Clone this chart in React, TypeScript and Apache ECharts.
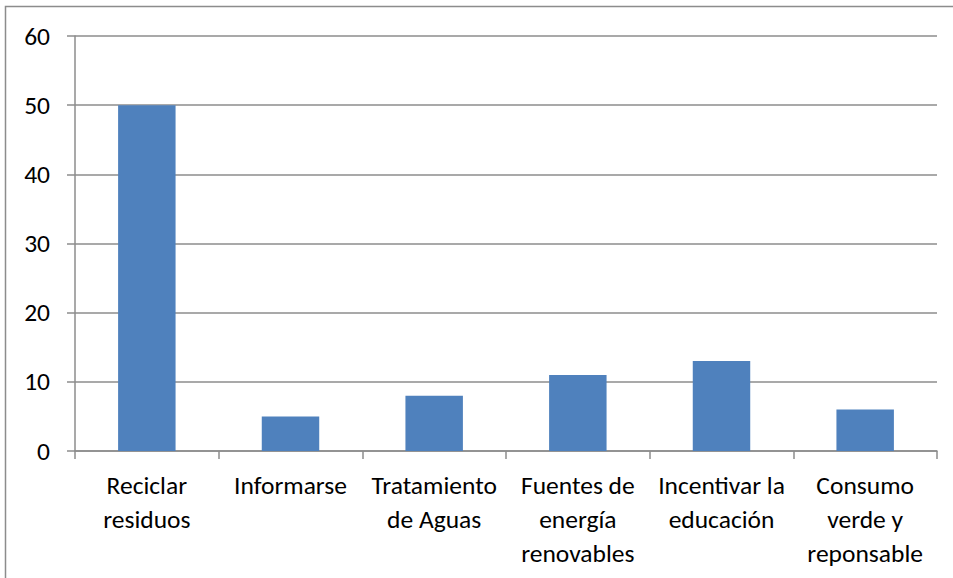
import React, { useEffect, useRef } from "react";
import * as echarts from "echarts";

const categories = [
  "Reciclar\nresiduos",
  "Informarse",
  "Tratamiento\nde Aguas",
  "Fuentes de\nenergía\nrenovables",
  "Incentivar la\neducación",
  "Consumo\nverde y\nreponsable",
];
const values = [50, 5, 8, 11, 13, 6];

export default function App() {
  const ref = useRef<HTMLDivElement>(null);
  useEffect(() => {
    if (!ref.current) return;
    const chart = echarts.init(ref.current, undefined, { renderer: "svg" });
    const font = "Carlito, 'Open Sans', 'Liberation Sans', sans-serif";
    chart.setOption({
      animation: false,
      backgroundColor: "#ffffff",
      graphic: [
        {
          type: "rect",
          shape: { x: 5.5, y: 6.5, width: 1200, height: 1200 },
          style: { fill: "none", stroke: "#8c8c8c", lineWidth: 1.5 },
          silent: true,
        },
      ],
      grid: { left: 75, right: 16, top: 36, bottom: 127, containLabel: false },
      xAxis: {
        type: "category",
        data: categories,
        axisLine: { show: true, lineStyle: { color: "#8c8c8c", width: 1.5 } },
        axisTick: { show: true, length: 8, lineStyle: { color: "#8c8c8c", width: 1.5 } },
        axisLabel: {
          interval: 0,
          color: "#000",
          fontSize: 25.5,
          fontFamily: font,
          lineHeight: 34,
          margin: 17,
        },
      },
      yAxis: {
        type: "value",
        min: 0,
        max: 60,
        interval: 10,
        axisLine: { show: true, lineStyle: { color: "#8c8c8c", width: 1.5 } },
        axisTick: { show: true, length: 8, lineStyle: { color: "#8c8c8c", width: 1.5 } },
        splitLine: { show: true, lineStyle: { color: "#8c8c8c", width: 1.5 } },
        axisLabel: { color: "#000", fontSize: 25.5, fontFamily: font, margin: 25 },
      },
      series: [
        {
          type: "bar",
          data: values,
          barWidth: "40%",
          itemStyle: { color: "#4f81bd" },
        },
      ],
    });
    return () => chart.dispose();
  }, []);
  return (
    <div
      ref={ref}
      style={{ position: "fixed", left: 0, top: 0, width: 953, height: 578 }}
    />
  );
}
